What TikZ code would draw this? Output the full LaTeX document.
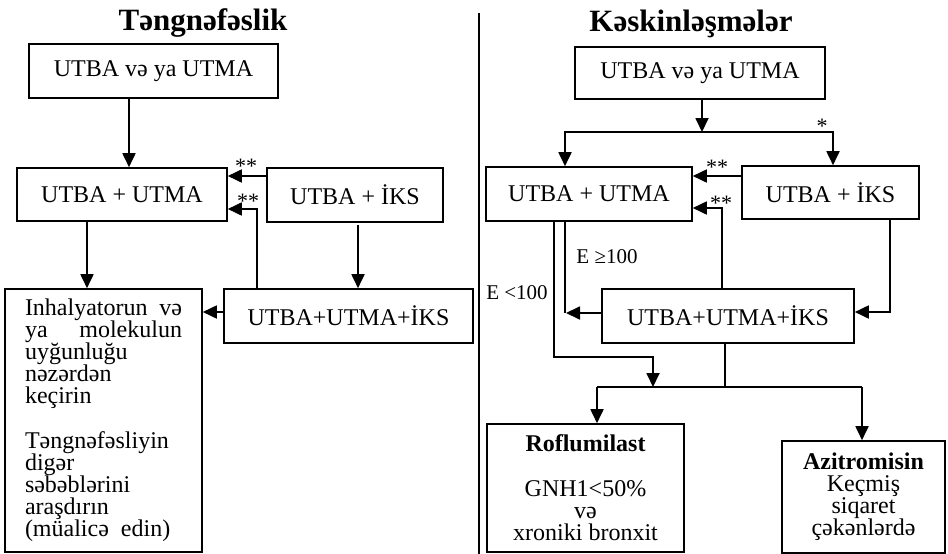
\documentclass[tikz,border=0pt]{standalone}
\usepackage{fontspec}
\setmainfont{Liberation Serif}
\usetikzlibrary{arrows.meta}
\begin{document}
\begin{tikzpicture}[x=1pt,y=-1pt,
  box/.style={draw,line width=1.6pt,inner sep=0pt,font=\fontsize{24}{22}\selectfont},
  conn/.style={line width=1.8pt},
  arr/.style={conn,-{Triangle[length=14pt,width=13pt]}},
  star/.style={font=\fontsize{22}{22}\selectfont,inner sep=0pt},
  lbl/.style={font=\fontsize{21}{21}\selectfont,inner sep=0pt},
  ttl/.style={font=\bfseries\fontsize{31}{31}\selectfont,anchor=base,inner sep=0pt}]
\useasboundingbox (0,0) rectangle (948,554);
% titles
\node[ttl] (t1) at (203,30) {Təngnəfəslik};
\node[ttl] (t2) at (691,31) {Kəskinləşmələr};
% divider
\coordinate (dtop) at (479,13);
\coordinate (dbot) at (479,554);
\draw[line width=2pt] (dtop) -- (dbot);

% ---- left ----
\node[box,minimum width=249,minimum height=54] (L1) at (153.5,71) {UTBA və ya UTMA};
\node[box,minimum width=210,minimum height=53] (L2) at (122,194.5) {UTBA + UTMA};
\node[box,minimum width=176,minimum height=54] (L3) at (355,195) {UTBA + İKS};
\node[box,minimum width=249,minimum height=54] (L4) at (348.5,316) {UTBA+UTMA+İKS};
\node[box,minimum width=197,minimum height=263] (L5) at (103.5,420.5)
  {\parbox{157pt}{\fontsize{24}{22}\selectfont
   \makebox[157pt][s]{Inhalyatorun və}\\
   \makebox[157pt][s]{ya molekulun}\\
   uyğunluğu\\
   nəzərdən\\
   keçirin\\[22pt]
   Təngnəfəsliyin\\
   digər\\
   səbəblərini\\
   araşdırın\\
   (müalicə\ \ edin)}};

\draw[arr] (129,0 |- L1.south) -- (129,0 |- L2.north);
\draw[arr] (0,176 -| L3.west) -- (0,176 -| L2.east);
\node[star] (s1) at (246,166) {**};
\draw[arr] (257,0 |- L4.north) -- (257,209) -- (0,209 -| L2.east);
\node[star] (s2) at (248,201) {**};
\draw[arr] (87,0 |- L2.south) -- (87,0 |- L5.north);
\draw[arr] (358,225) -- (358,0 |- L4.north);
\draw[arr] (0,312 -| L4.west) -- (0,312 -| L5.east);

% ---- right ----
\node[box,minimum width=250,minimum height=52] (R1) at (700,73) {UTBA və ya UTMA};
\node[box,minimum width=206,minimum height=54] (R2) at (589,194) {UTBA + UTMA};
\node[box,minimum width=177,minimum height=53] (R3) at (830.5,192.5) {UTBA + İKS};
\node[box,minimum width=252,minimum height=54] (R4) at (728,316) {UTBA+UTMA+İKS};
\node[box,minimum width=197,minimum height=128,align=center,font=\fontsize{24}{22}\selectfont] (R5) at (585.5,488)
  {\textbf{Roflumilast}\\[23pt]GNH1<50\%\\və\\xroniki bronxit};
\node[box,minimum width=163,minimum height=112,align=center,font=\fontsize{24}{22}\selectfont] (R6) at (863.5,497)
  {\textbf{Azitromisin}\\Keçmiş\\siqaret\\çəkənlərdə};

\coordinate (sp1) at (702,132);
\draw[arr] (702,0 |- R1.south) -- (sp1);
\draw[arr] (sp1) -| (565,0 |- R2.north);
\draw[arr] (sp1) -| (833,0 |- R3.north);
\node[star] (s3) at (822,126) {*};

\draw[arr] (0,176 -| R3.west) -- (0,176 -| R2.east);
\node[star] (s4) at (717,167) {**};
\draw[arr] (722,0 |- R4.north) -- (722,208) -- (0,208 -| R2.east);
\node[star] (s5) at (721,203) {**};

\coordinate (j1) at (565,313);
\draw[conn] (565,0 |- R2.south) -- (j1);
\draw[arr] (0,313 -| R4.west) -- (566,313);

\coordinate (sp2) at (653,387);
\draw[arr] (554,0 |- R2.south) -- (554,357) -- (653,357) -- (sp2);

\draw[arr] (890,0 |- R3.south) -- (890,312) -- (0,312 -| R4.east);

\coordinate (sp3) at (725,387);
\draw[conn] (725,0 |- R4.south) -- (sp3);
\draw[conn] (597,387) -- (862,387);
\draw[arr] (597,387) -- (597,0 |- R5.north);
\draw[arr] (862,387) -- (862,0 |- R6.north);

\node[lbl] (e1) at (607,257) {E ≥100};
\node[lbl] (e2) at (517,293) {E <100};
\end{tikzpicture}
\end{document}
